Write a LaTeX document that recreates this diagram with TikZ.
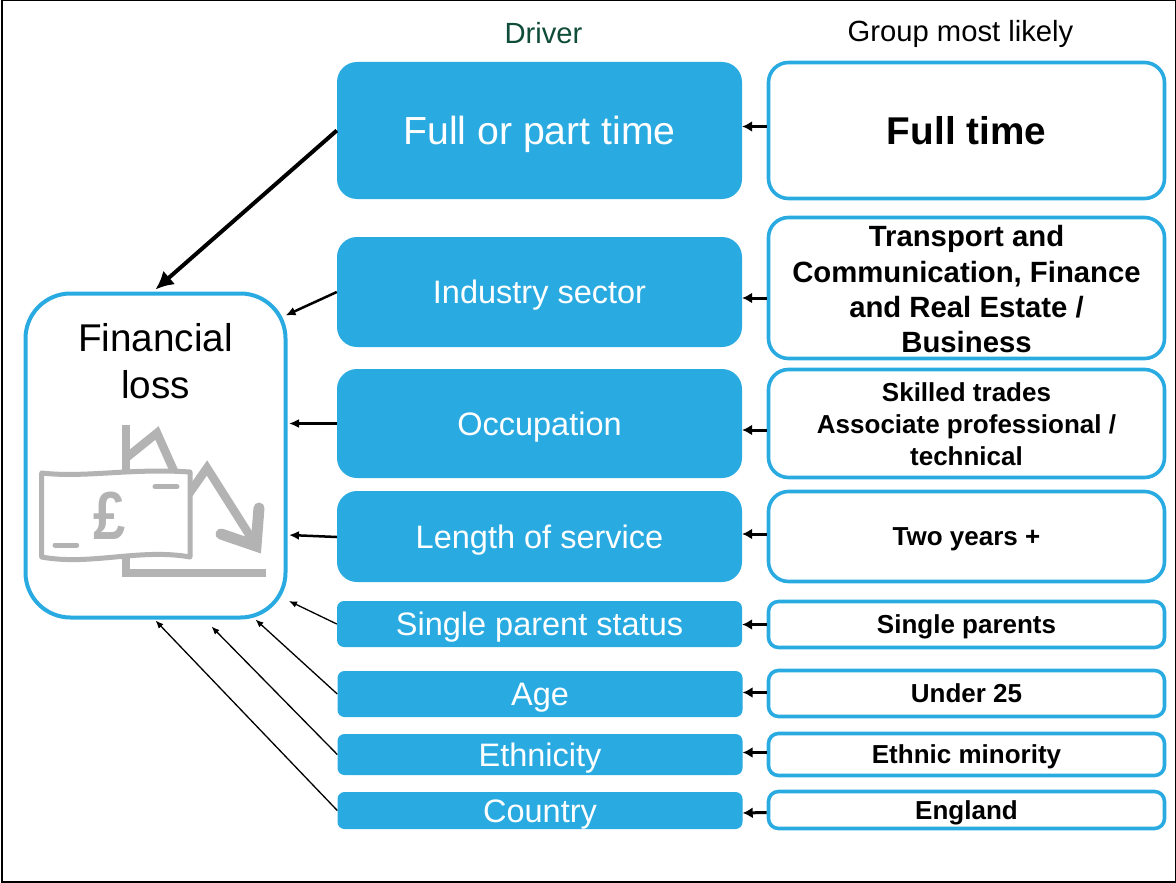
\documentclass[tikz,border=0pt]{standalone}
\usepackage{fontspec}
\setmainfont{Liberation Sans}
\usetikzlibrary{shapes,arrows,arrows.meta,positioning,calc}
\definecolor{driverblue}{HTML}{29ABE2}
\definecolor{headgreen}{HTML}{0F4C3A}
\definecolor{icongrey}{HTML}{B3B3B3}
\tikzset{
driver/.style = {fill=driverblue, text=white, rectangle, rounded corners=20pt, inner sep=0pt, minimum width=405pt, text height=23.4pt, text depth=0pt, font=\fontsize{32.5}{38}\selectfont},
smalldriver/.style = {driver, rounded corners=7pt},
group/.style = {draw=driverblue, line width=3.6pt, fill=white, rectangle, rounded corners=20pt, inner sep=0pt, minimum width=396pt, align=center, font=\fontsize{26}{32}\selectfont\bfseries},
oneline/.style = {text height=18.7pt, text depth=0pt},
smallgroup/.style = {group, oneline, rounded corners=10pt},
loss/.style = {draw=driverblue, line width=4pt, fill=white, rectangle, rounded corners=45pt, inner sep=0pt, minimum width=260pt, minimum height=324pt},
heading/.style = {inner sep=0pt, font=\fontsize{29.2}{34}\selectfont},
feed/.style = {-{Latex[length=10pt,width=11pt]}, line width=3pt},
link/.style = {-{Latex[length=10pt,width=9pt]}, line width=2.5pt},
thinlink/.style = {-{Latex[length=8pt,width=6.5pt]}, line width=1.3pt},
icon/.style = {draw=icongrey, line width=8.5pt, miter limit=10}
}
\begin{document}
\begin{tikzpicture}[auto, x=1pt, y=1pt, node distance=427pt]
    \useasboundingbox (0,0) rectangle (1176,-883);
    \draw [line width=2pt] (2,-0.5) rectangle (1175.5,-881.5);
    % drivers
    \node [driver, minimum height=137pt, text height=28pt, font=\fontsize{39.2}{46}\selectfont] (fulltime) at (539.5,-130.5) {Full or part time};
    \node [driver, below of=fulltime, node distance=161.5pt, minimum height=110pt] (sector) {Industry sector};
    \node [driver, below of=sector, node distance=131.5pt, minimum height=109pt] (occupation) {Occupation};
    \node [driver, below of=occupation, node distance=113pt, minimum height=91pt] (service) {Length of service};
    \node [smalldriver, below of=service, node distance=87.5pt, minimum height=46pt] (parent) {Single parent status};
    \node [smalldriver, below of=parent, node distance=70pt, minimum height=46pt, xshift=0.5pt] (age) {Age};
    \node [smalldriver, below of=age, node distance=60.5pt, minimum height=41pt] (ethnicity) {Ethnicity};
    \node [smalldriver, below of=ethnicity, node distance=56pt, minimum height=37pt] (country) {Country};
    % groups
    \node [group, right of=fulltime, minimum height=136pt, text height=27.9pt, text depth=0pt, font=\fontsize{38.7}{46}\selectfont\bfseries] (gfull) {Full time};
    \node [group, right of=sector, yshift=4pt, minimum height=141pt, font=\fontsize{29.3}{35.3}\selectfont\bfseries] (gsector) {\rule{0pt}{24pt}Transport and\\Communication, Finance\\and Real Estate /\\Business};
    \node [group, right of=occupation, minimum height=108pt] (goccupation) {\rule{0pt}{20pt}Skilled trades\\Associate professional /\\technical};
    \node [group, oneline, right of=service, minimum height=90pt] (gservice) {Two years +};
    \node [smallgroup, right of=parent, yshift=-0.5pt, minimum height=46pt] (gparent) {Single parents};
    \node [smallgroup, right of=age, xshift=-0.5pt, yshift=0.5pt, minimum height=46pt] (gage) {Under 25};
    \node [smallgroup, right of=ethnicity, xshift=-0.5pt, minimum height=42pt] (gethnicity) {Ethnic minority};
    \node [smallgroup, right of=country, xshift=-0.5pt, yshift=0.5pt, minimum height=37pt] (gcountry) {England};
    % headings
    \node [heading, text=headgreen] (driverhead) at (543.5,-33) {Driver};
    \node [heading] (grouphead) at (960.5,-33.5) {Group most likely};
    % financial loss
    \node [loss] (lossbox) at (155.5,-455.5) {};
    \node [inner sep=0pt, align=center, font=\fontsize{38.7}{47}\selectfont] (losstext) at (155.5,-361) {Financial\\loss};
    \draw [icon, line width=8.3pt] (126,-425) -- (126,-573) -- (265.5,-573);
    \draw [icon] (126,-458) -- (157,-433) -- (178,-480);
    \draw [icon] (186,-498) -- (207,-468) -- (257,-547);
    \draw [icon, line width=11pt, line cap=round] (259,-508) -- (256,-546) -- (221,-534);
    \draw [icongrey, line width=5pt, fill=white, line join=round] (41.7,-473) .. controls (85,-478) and (130,-468) .. (190,-472) -- (190,-557) .. controls (140,-548) and (90,-566) .. (41.7,-557) -- cycle;
    \draw [icongrey, line width=5pt, line cap=round] (155,-486.7) -- (177,-486.7);
    \draw [icongrey, line width=5pt, line cap=round] (55,-545) -- (76.7,-545);
    \node [inner sep=0pt, text=icongrey, xscale=0.85, font=\fontsize{68}{68}\selectfont\bfseries] (pound) at (110,-516) {£};
    % connectors
    \draw [feed] ([yshift=4pt]gfull.west) -- ([yshift=4pt]fulltime.east);
    \draw [feed] ([yshift=-10pt]gsector.west) -- ([yshift=-6pt]sector.east);
    \draw [feed] ([yshift=-6.5pt]goccupation.west) -- ([yshift=-6.5pt]occupation.east);
    \draw [feed] ([yshift=2.5pt]gservice.west) -- ([yshift=2.5pt]service.east);
    \draw [feed] (gparent.west) -- ([yshift=-0.5pt]parent.east);
    \draw [feed] ([yshift=1pt]gage.west) -- ([yshift=1.5pt]age.east);
    \draw [feed] ([yshift=2pt]gethnicity.west) -- ([yshift=2pt]ethnicity.east);
    \draw [feed] ([yshift=-2.5pt]gcountry.west) -- ([yshift=-2.5pt]country.east);
    \draw [-{Latex[length=18pt,width=18pt]}, line width=4pt] (fulltime.west) -- ([yshift=2pt]lossbox.north);
    \draw [link] (sector.west) -- ([xshift=-2pt,yshift=140pt]lossbox.east);
    \draw [link] (occupation.west) -- ([xshift=1.5pt,yshift=32pt]lossbox.east);
    \draw [link] ([yshift=-0.5pt]service.west) -- ([xshift=1.5pt,yshift=-79.5pt]lossbox.east);
    \draw [thinlink] (parent.west) -- ([xshift=1.5pt,yshift=-145.5pt]lossbox.east);
    \draw [thinlink] (age.west) -- ([xshift=100pt,yshift=0pt]lossbox.south);
    \draw [thinlink] (ethnicity.west) -- ([xshift=56pt,yshift=-7pt]lossbox.south);
    \draw [thinlink] (country.west) -- ([yshift=-1pt]lossbox.south);
\end{tikzpicture}
\end{document}
